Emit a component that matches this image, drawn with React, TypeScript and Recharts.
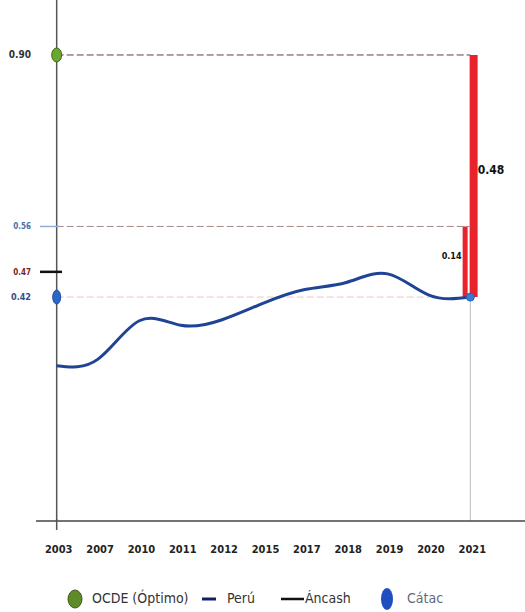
import {
  ComposedChart,
  Line,
  Bar,
  XAxis,
  YAxis,
  ReferenceLine,
  ReferenceDot,
  LabelList,
} from "recharts";

const years = ["2003", "2007", "2010", "2011", "2012", "2015", "2017", "2018", "2019", "2020", "2021"];
const peru = [0.284, 0.297, 0.373, 0.364, 0.375, 0.408, 0.435, 0.449, 0.466, 0.424, 0.42];
const ocde = 0.9;
const nivelMedio = 0.56;
const ancash = 0.47;
const catac = 0.42;
const yTicks = [catac, ancash, nivelMedio, ocde];
const lastYear = years[years.length - 1];

const Y_MIN = -0.024;
const Y_MAX = 1.009;
const FONT = "'DejaVu Sans Condensed', 'Liberation Sans', sans-serif";

const data = years.map((year, i) => ({
  year,
  peru: peru[i],
  small: year === lastYear ? [catac, nivelMedio] : null,
  big: year === lastYear ? [catac, ocde] : null,
  smallLabel: year === lastYear ? nivelMedio - catac : null,
  bigLabel: year === lastYear ? ocde - catac : null,
}));

const tickStyle: Record<number, { color: string; size: number }> = {
  0.9: { color: "#333", size: 10 },
  0.56: { color: "#4a6fa8", size: 8 },
  0.47: { color: "#7a1e1e", size: 8 },
  0.42: { color: "#2f4f8c", size: 9 },
};

function YTick(props: any) {
  const { y, payload } = props;
  const v = payload.value as number;
  const st = tickStyle[v] ?? { color: "#333", size: 9 };
  return (
    <g>
      <text
        x={31}
        y={y}
        dy={3}
        textAnchor="end"
        fontSize={st.size}
        fontWeight="bold"
        fill={st.color}
        fontFamily={FONT}
      >
        {v.toFixed(2)}
      </text>
      {v === ancash && <line x1={40} x2={62} y1={y} y2={y} stroke="#111" strokeWidth={2.5} />}
      {v === nivelMedio && <line x1={40} x2={60} y1={y} y2={y} stroke="#8fb0d8" strokeWidth={1.5} />}
    </g>
  );
}

function XTick(props: any) {
  const { x, y, payload, index } = props;
  return (
    <g>
      {index === 0 && <line x1={x} x2={x} y1={y - 10} y2={y + 1} stroke="#555" strokeWidth={1.5} />}
      <text
        x={x + 2}
        y={y}
        dy={24}
        textAnchor="middle"
        fontSize={11}
        fontWeight="bold"
        fill="#222"
        fontFamily={FONT}
      >
        {payload.value}
      </text>
    </g>
  );
}

function GapLabel(side: "left" | "right", size: number, dyAdj: number) {
  return (props: any) => {
    const { x, y, width, height, value } = props;
    if (value == null) return null;
    const mid = y + height / 2 + dyAdj;
    const tx = side === "left" ? x - 1 : x + width;
    return (
      <text
        x={tx}
        y={mid}
        dy={4}
        textAnchor={side === "left" ? "end" : "start"}
        fontSize={size}
        fontWeight="bold"
        fill="#111"
        fontFamily={FONT}
      >
        {Number(value).toFixed(2)}
      </text>
    );
  };
}

const Ellipse = (fill: string, stroke: string, rx: number, ry: number) => (props: any) => (
  <ellipse cx={props.cx} cy={props.cy} rx={rx} ry={ry} fill={fill} stroke={stroke} strokeWidth={1} />
);

const legendText = { fontFamily: FONT, fontSize: 14, color: "#333", position: "absolute" as const, top: 590 };

export default function App() {
  return (
    <div style={{ position: "absolute", left: 0, top: 0, width: 525, height: 612, background: "#fff" }}>
      <ComposedChart
        width={525}
        height={612}
        data={data}
        margin={{ top: 0, right: 0, left: 0, bottom: 0 }}
        barGap={2}
      >
        <XAxis
          dataKey="year"
          height={91}
          padding={{ left: 0, right: 34 }}
          axisLine={{ stroke: "#444", strokeWidth: 1.5 }}
          tickLine={false}
          interval={0}
          tick={<XTick />}
        />
        <YAxis
          width={36}
          domain={[Y_MIN, Y_MAX]}
          ticks={yTicks}
          axisLine={false}
          tickLine={false}
          interval={0}
          tick={<YTick />}
        />
        <ReferenceLine x={years[0]} stroke="#555" strokeWidth={1.5} />
        <ReferenceLine
          segment={[{ x: years[0], y: ocde }, { x: lastYear, y: ocde }]}
          stroke="#6b3a3a"
          strokeDasharray="7 3"
        />
        <ReferenceLine
          segment={[{ x: years[0], y: nivelMedio }, { x: lastYear, y: nivelMedio }]}
          stroke="#a88888"
          strokeDasharray="7 3"
        />
        <ReferenceLine
          segment={[{ x: years[0], y: catac }, { x: years[9], y: catac }]}
          stroke="#f0c4c4"
          strokeDasharray="7 3"
        />
        <ReferenceLine
          segment={[{ x: lastYear, y: Y_MIN }, { x: lastYear, y: catac }]}
          stroke="#bbb"
          strokeWidth={1}
        />
        <Line
          type="natural"
          dataKey="peru"
          stroke="#1f4496"
          strokeWidth={3}
          dot={false}
          isAnimationActive={false}
        />
        <Bar dataKey="small" fill="#e8232b" barSize={5} isAnimationActive={false}>
          <LabelList dataKey="smallLabel" content={GapLabel("left", 9, -7)} />
        </Bar>
        <Bar dataKey="big" fill="#e8232b" barSize={8} isAnimationActive={false}>
          <LabelList dataKey="bigLabel" content={GapLabel("right", 12, -6)} />
        </Bar>
        <ReferenceDot x={years[0]} y={ocde} shape={Ellipse("#6aa630", "#3e6a1a", 5, 7)} />
        <ReferenceDot x={years[0]} y={catac} shape={Ellipse("#2d66c9", "#1d4ea0", 4, 7)} />
        <ReferenceDot x={lastYear} y={catac} shape={Ellipse("#3b7bd6", "#2a5fb0", 4, 4)} />
      </ComposedChart>
      <div>
        <svg style={{ position: "absolute", left: 67, top: 589 }} width={16} height={20}>
          <ellipse cx={8} cy={10} rx={7} ry={9} fill="#5f8a2a" stroke="#3e5a1a" />
        </svg>
        <span style={{ ...legendText, left: 92 }}>OCDE (Óptimo)</span>
        <svg style={{ position: "absolute", left: 202, top: 596 }} width={14} height={6}>
          <line x1={0} x2={14} y1={3} y2={3} stroke="#0f1f6a" strokeWidth={3} />
        </svg>
        <span style={{ ...legendText, left: 227 }}>Perú</span>
        <svg style={{ position: "absolute", left: 281, top: 596 }} width={23} height={6}>
          <line x1={0} x2={23} y1={3} y2={3} stroke="#111" strokeWidth={2.5} />
        </svg>
        <span style={{ ...legendText, left: 305 }}>Áncash</span>
        <svg style={{ position: "absolute", left: 379, top: 587 }} width={16} height={24}>
          <ellipse cx={8} cy={12} rx={6} ry={11} fill="#1f4fbf" />
        </svg>
        <span style={{ ...legendText, left: 407, color: "#5d6a80" }}>Cátac</span>
      </div>
    </div>
  );
}
